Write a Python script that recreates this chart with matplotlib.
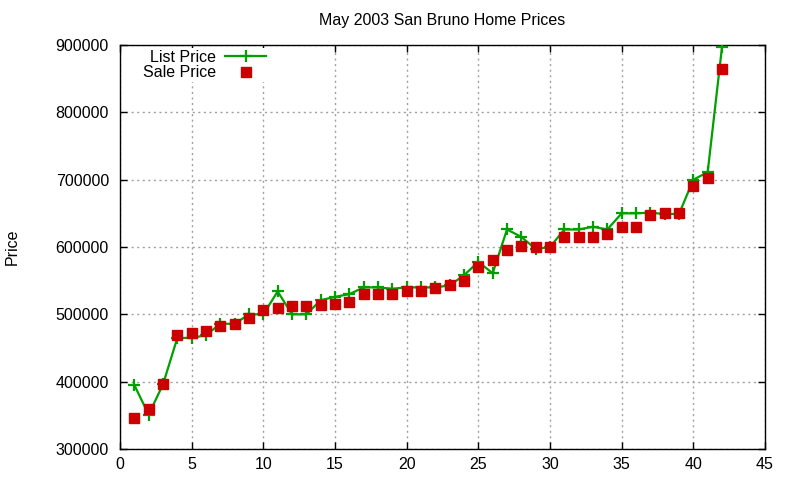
import matplotlib
matplotlib.use("Agg")
import matplotlib.pyplot as plt

plt.rcParams['font.family'] = ['Liberation Sans', 'DejaVu Sans']

house = list(range(1, 43))
list_price = [395000, 351000, 396000, 465000, 465000, 469000, 486000, 486000, 500000, 500000,
              534000, 500000, 500000, 521000, 526000, 530000, 540000, 540000, 538000, 540000,
              540000, 540000, 543000, 558000, 578000, 561000, 626000, 615000, 597000, 600000,
              626000, 626000, 630000, 626000, 650000, 650000, 651000, 649000, 649000, 700000,
              711000, 897000]
sale_price = [346000, 359000, 396000, 469000, 472000, 475000, 483000, 486000, 495000, 506000,
              510000, 512000, 512000, 514000, 516000, 519000, 530000, 530000, 530000, 535000,
              535000, 539000, 544000, 550000, 571000, 581000, 596000, 601000, 600000, 600000,
              615000, 615000, 615000, 620000, 630000, 630000, 647000, 651000, 651000, 691000,
              702000, 864000]
x_ticks = [0, 5, 10, 15, 20, 25, 30, 35, 40, 45]
y_ticks = [300000, 400000, 500000, 600000, 700000, 800000, 900000]

FS = 11.5

fig = plt.figure(figsize=(8, 4.8), dpi=100)
ax = fig.add_axes([120/800, 1-449/480, 645/800, 404/480])

green = '#00a000'
red = '#cc0000'
ax.plot(house, list_price, color=green, lw=1.6, marker='+', ms=9, mew=1.6,
        label='List Price', zorder=3)
ax.plot(house, sale_price, ls='none', color=red, marker='s', ms=6.5,
        label='Sale Price', zorder=4)

ax.set_xlim(0, 45)
ax.set_ylim(300000, 900000)
ax.set_xticks(x_ticks)
ax.set_yticks(y_ticks)
ax.set_xticklabels([str(v) for v in x_ticks])
ax.set_yticklabels([str(v) for v in y_ticks])
ax.tick_params(direction='in', length=5, width=1, top=True, right=True,
               labelsize=FS, pad=6, colors='black')
ax.tick_params(axis='y', pad=8)
ax.grid(True, color='#a0a0a0', linestyle=(0, (1.5, 2.5)), linewidth=1)
for s in ax.spines.values():
    s.set_linewidth(1)

fig.text(442/800, 1-21/480, 'May 2003 San Bruno Home Prices', ha='center', va='center',
         fontsize=FS)
fig.text(12/800, 1-247/480, 'Price', ha='center', va='center', rotation=90, fontsize=FS)

leg = ax.legend(loc='upper right', bbox_to_anchor=(268/800, 1-48/480),
                bbox_transform=fig.transFigure, frameon=True, fancybox=False,
                facecolor='white', edgecolor='none', framealpha=1.0, markerfirst=False,
                numpoints=1, fontsize=FS, handlelength=2.6, handletextpad=0.55,
                labelspacing=0.05, borderaxespad=0, borderpad=0.1)

fig.savefig('out.png', dpi=100)
